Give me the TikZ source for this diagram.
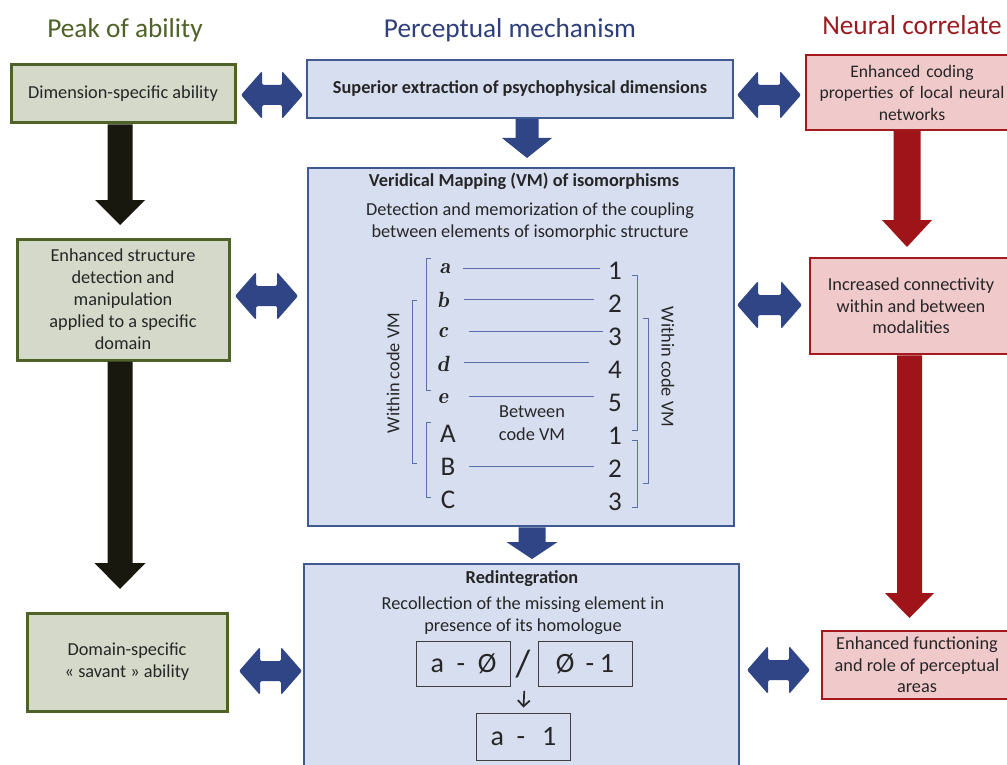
\documentclass[tikz,border=0pt]{standalone}
\usepackage{fontspec}
\setmainfont{Carlito}
\usetikzlibrary{calc,arrows.meta}
\definecolor{olivedark}{HTML}{4F6228}
\definecolor{greenfill}{HTML}{D5D9C9}
\definecolor{bborder}{HTML}{3F5A91}
\definecolor{bfill}{HTML}{D6DEF0}
\definecolor{rborder}{HTML}{A3191E}
\definecolor{rfill}{HTML}{F0C9CB}
\definecolor{dblblue}{HTML}{2F4585}
\definecolor{redarrow}{HTML}{9E1419}
\definecolor{blackarrow}{HTML}{18180F}
\definecolor{navytitle}{HTML}{2E3F7C}
\definecolor{redtitle}{HTML}{9B1B20}
\definecolor{textgray}{HTML}{262626}
\definecolor{vmblue}{HTML}{5A70AA}
% vertical block arrow: colour, start anchor, tip coordinate, shaft half, head half, head length
\newcommand\vArrow[6]{\fill[#1] ($(#2 -| #3)+(-#4,0)$) -- ($(#3)+(-#4,-#6)$) -- ($(#3)+(-#5,-#6)$) -- (#3) -- ($(#3)+(#5,-#6)$) -- ($(#3)+(#4,-#6)$) -- ($(#2 -| #3)+(#4,0)$) -- cycle;}
% horizontal double block arrow between two tip coordinates
\newcommand\hArrow[2]{\fill[dblblue, rounded corners=1.5pt] (#1) -- ($(#1)+(21,-24)$) -- ($(#1)+(21,-10)$) -- ($(#2)+(-21,-10)$) -- ($(#2)+(-21,-24)$) -- (#2) -- ($(#2)+(-21,24)$) -- ($(#2)+(-21,10)$) -- ($(#1)+(21,10)$) -- ($(#1)+(21,24)$) -- cycle;}
\begin{document}
\begin{tikzpicture}[x=1pt,y=-1pt,
  gbox/.style={draw=olivedark, line width=3pt, fill=greenfill, align=center, inner sep=0pt, text=textgray, font=\fontsize{18.3}{22}\selectfont},
  bbox/.style={draw=bborder, line width=2.5pt, fill=bfill, inner sep=0pt},
  rbox/.style={draw=rborder, line width=2.5pt, fill=rfill, align=center, inner sep=0pt, text=textgray, font=\fontsize{18.3}{21.5}\selectfont},
  coltitle/.style={font=\fontsize{27.3}{30}\selectfont, inner sep=0pt},
  btext/.style={text=textgray, align=center, inner sep=0pt, font=\fontsize{18.3}{22.5}\selectfont},
  scr/.style={text=textgray, inner sep=0pt, anchor=base, font=\fontfamily{lmr}\fontsize{22}{22}\selectfont\bfseries\itshape},
  num/.style={text=textgray, inner sep=0pt, anchor=base, font=\fontsize{27}{27}\selectfont},
  vmline/.style={draw=vmblue, line width=0.9pt},
  brk/.style={draw=vmblue, line width=0.8pt},
  smallbox/.style={draw=black!75, line width=0.9pt, minimum width=94pt, minimum height=45pt, inner sep=0pt, text=textgray, font=\fontsize{28}{28}\selectfont}
]
\useasboundingbox (0,0) rectangle (1007,765);
\clip (0,0) rectangle (1007,765);
\fill[white] (0,0) rectangle (1007,765);

% column titles
\node[coltitle, text=olivedark] (t1) at (125,30) {Peak of ability};
\node[coltitle, text=navytitle] (t2) at (510,30) {Perceptual mechanism};
\node[coltitle, text=redtitle] (t3) at (912,25) {Neural correlate};

% left column
\node[gbox, minimum width=224pt, minimum height=58pt] (l1) at (123,94) {Dimension-specific ability};
\node[gbox, minimum width=212pt, minimum height=121pt] (l2) at (123,299.5) {Enhanced structure\\detection and\\manipulation\\applied to a specific\\domain};
\node[gbox, minimum width=200pt, minimum height=98pt] (l3) at (127,662) {Domain-specific\\« savant » ability};

% centre column
\node[bbox, minimum width=426pt, minimum height=58pt, font=\bfseries\fontsize{18.3}{22}\selectfont, text=textgray] (c1) at (520,89) {Superior extraction of psychophysical dimensions};
\node[bbox, minimum width=426pt, minimum height=358pt] (c2) at (521,347) {};
\node[bbox, minimum width=435pt, minimum height=220pt] (c3) at (521.5,674) {};

% right column
\node[rbox, minimum width=212pt, minimum height=75pt, text width=200pt, font=\fontsize{17.6}{21.5}\selectfont] (r1) at (912,92.5) {Enhanced coding\\properties of local neural\\networks};
\node[rbox, minimum width=202pt, minimum height=96pt] (r2) at (911,306) {Increased connectivity\\within and between\\modalities};
\node[rbox, minimum width=190pt, minimum height=68pt] (r3) at (917,665) {Enhanced functioning\\and role of perceptual\\areas};

% vertical arrows
\coordinate (ta1) at (120,225);
\coordinate (ta2) at (120,589);
\coordinate (tb1) at (527,158);
\coordinate (tb2) at (532,559);
\coordinate (tr1) at (907,247);
\coordinate (tr2) at (909.5,618);
\vArrow{blackarrow}{l1.south}{ta1}{12.5}{25}{25}
\vArrow{blackarrow}{l2.south}{ta2}{12.5}{25.5}{26}
\vArrow{dblblue}{c1.south}{tb1}{11.5}{25}{20}
\vArrow{dblblue}{c2.south}{tb2}{13.5}{25.5}{17}
\vArrow{redarrow}{r1.south}{tr1}{13.5}{25}{27}
\vArrow{redarrow}{r2.south}{tr2}{12.5}{24.5}{25}

% horizontal double arrows
\coordinate (d1a) at (241,95);   \coordinate (d1b) at (303,95);
\coordinate (d2a) at (737,95);   \coordinate (d2b) at (801,95);
\coordinate (d3a) at (235,296);  \coordinate (d3b) at (298,296);
\coordinate (d4a) at (737,305);  \coordinate (d4b) at (802,305);
\coordinate (d5a) at (239,671);  \coordinate (d5b) at (302,671);
\coordinate (d6a) at (747,670);  \coordinate (d6b) at (810,670);
\hArrow{d1a}{d1b}
\hArrow{d2a}{d2b}
\hArrow{d3a}{d3b}
\hArrow{d4a}{d4b}
\hArrow{d5a}{d5b}
\hArrow{d6a}{d6b}

% VM box content
\node[text=textgray, inner sep=0pt, font=\bfseries\fontsize{18.3}{22}\selectfont] (vmt) at (524,181) {Veridical Mapping (VM) of isomorphisms};
\node[btext, font=\fontsize{18.3}{21.5}\selectfont] (vms) at (530,221.5) {Detection and memorization of the coupling\\between elements of isomorphic structure};

\node[scr] (la) at (445,273) {a};
\node[scr] (lb) at (443,307) {b};
\node[scr] (lc) at (443,337) {c};
\node[scr] (ld) at (443,371) {d};
\node[scr] (le) at (443,403) {e};
\node[num] (ua) at (448,442) {A};
\node[num] (ub) at (448,475) {B};
\node[num] (uc) at (448,508) {C};
\node[num] (n1) at (615,279) {1};
\node[num] (n2) at (615,312) {2};
\node[num] (n3) at (615,345) {3};
\node[num] (n4) at (615,378) {4};
\node[num] (n5) at (615,411) {5};
\node[num] (m1) at (615,444) {1};
\node[num] (m2) at (615,477) {2};
\node[num] (m3) at (615,510) {3};

\draw[vmline] ($(la.base)+(18,-5)$) -- ($(la.base -| n1.west)+(-8,-5)$);
\draw[vmline] ($(lb.base)+(21,-8)$) -- ($(lb.base -| n2.west)+(-14,-8)$);
\draw[vmline] ($(lc.base)+(26,-6)$) -- ($(lc.base -| n3.west)+(-5,-6)$);
\draw[vmline] ($(ld.base)+(21,-9)$) -- ($(ld.base -| n4.west)+(-19,-9)$);
\draw[vmline] ($(le.base)+(26,-7)$) -- ($(le.base -| n5.west)+(-14,-7)$);
\draw[vmline] ($(ub.base)+(21,-9)$) -- ($(ub.base -| m2.west)+(-14,-9)$);

\node[btext, font=\fontsize{18.3}{23}\selectfont] (between) at (532,423.5) {Between\\code VM};
\node[btext, rotate=90] (wl) at (393,373) {Within code VM};
\node[btext, rotate=-90] (wr) at (668,367) {Within code VM};

% brackets
\draw[brk] (431,258) -- (426,258) -- (426,390) -- (431,390);
\draw[brk] (431,422) -- (426,422) -- (426,497) -- (431,497);
\draw[brk] (417,300) -- (412,300) -- (412,463) -- (417,463);
\draw[brk] (632,275) -- (637,275) -- (637,430) -- (632,430);
\draw[brk] (632,440) -- (637,440) -- (637,507) -- (632,507);
\draw[brk] (643,318) -- (648,318) -- (648,483) -- (643,483);

% redintegration content
\node[text=textgray, inner sep=0pt, font=\bfseries\fontsize{18.3}{22}\selectfont] (rt) at (522,579) {Redintegration};
\node[btext] (rs) at (523,615.5) {Recollection of the missing element in\\presence of its homologue};
\node[smallbox] (s1) at (463.5,664) {a\hspace{0.45em}-\hspace{0.45em}Ø};
\node[text=textgray, inner sep=0pt, font=\fontsize{38}{38}\selectfont] (slash) at (523,664) {/};
\node[smallbox] (s2) at (585,664) {Ø\hspace{0.4em}-\hspace{0.2em}1};
\node[smallbox, minimum height=47pt] (s3) at (523.5,736.5) {a\hspace{0.45em}-\hspace{0.6em}1};
\draw[-{Straight Barb[length=6pt,width=12pt]}, line width=1.7pt, black!85] ($(s1.south east)!0.5!(s2.south west)+(0,4)$) -- ($(s3.north)+(0,-5)$);
\end{tikzpicture}
\end{document}
